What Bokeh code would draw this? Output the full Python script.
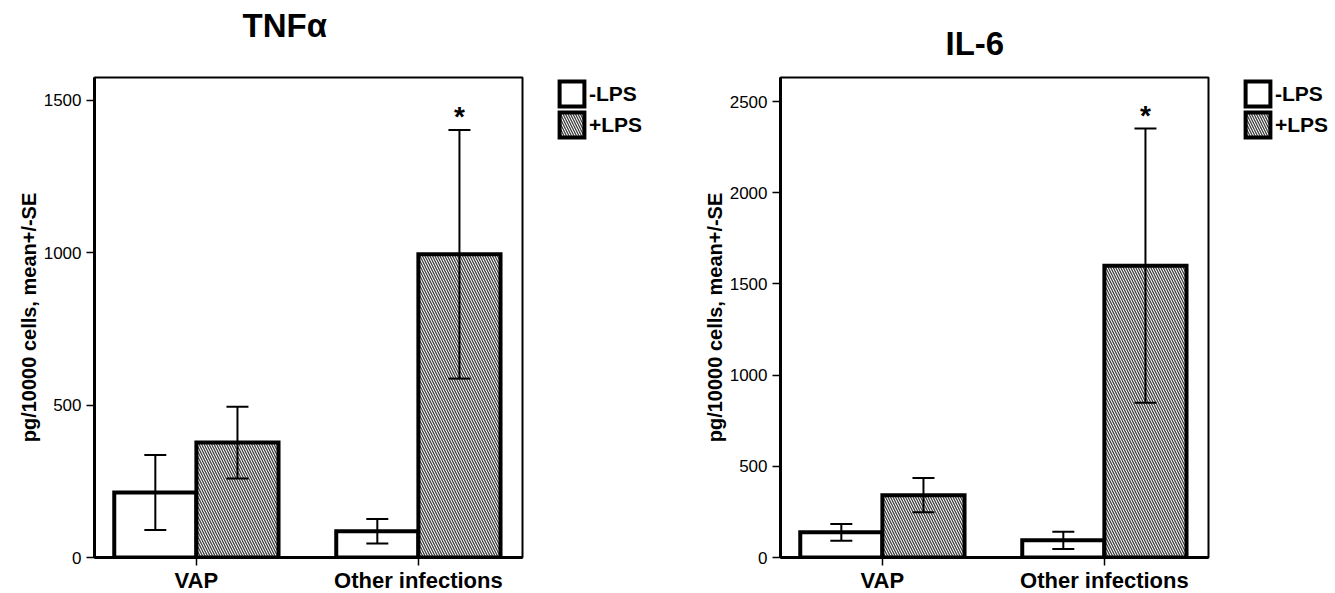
from bokeh.plotting import figure
from bokeh.models import (ColumnDataSource, Range1d, FixedTicker, Whisker, TeeHead,
                          Legend, LegendItem, Title)
from bokeh.layouts import row
from bokeh.embed import file_html
from bokeh.resources import INLINE
from bokeh.core.properties import value

# ---------------- data ----------------
categories = ["VAP", "Other infections"]
groups = ["-LPS", "+LPS"]

tnf_minus = [213, 86]
tnf_minus_se = [123, 40]
tnf_plus = [377, 995]
tnf_plus_se = [118, 408]

il6_minus = [138, 94]
il6_minus_se = [46, 47]
il6_plus = [342, 1600]
il6_plus_se = [94, 752]

significant = [False, True]  # asterisk above +LPS bar

tnf_ticks = [0, 500, 1000, 1500]
il6_ticks = [0, 500, 1000, 1500, 2000, 2500]

FONT = "Liberation Sans"
BAR_W = 0.37
FRAME_H = 480
TOP = 77
LEG_ITEM = 31

MINUS_STYLE = dict(fill_color="white", line_color="black", line_width=4, line_join="miter")
PLUS_STYLE = dict(fill_color="white", line_color="black", line_width=4, line_join="miter",
                  hatch_pattern="left_diagonal_line", hatch_color="#404040",
                  hatch_scale=5, hatch_weight=1.3)


def make_source(minus, minus_se, plus, plus_se):
    xs = list(range(len(categories)))
    return ColumnDataSource(dict(
        x=xs,
        x_m=[x - BAR_W / 2 for x in xs], x_p=[x + BAR_W / 2 for x in xs],
        minus=minus, plus=plus,
        m_lo=[v - e for v, e in zip(minus, minus_se)],
        m_hi=[v + e for v, e in zip(minus, minus_se)],
        p_lo=[v - e for v, e in zip(plus, plus_se)],
        p_hi=[v + e for v, e in zip(plus, plus_se)],
    ))


def make_legend_fig(src, width, legend_x, legend_top_gap):
    # a narrow companion canvas that only shows the legend; the proxy bar
    # renderers are hidden, only their legend swatches are drawn
    lf = figure(frame_width=width, frame_height=FRAME_H, x_range=Range1d(-0.5, 1.5),
                y_range=Range1d(0, 3000), x_axis_type=None, y_axis_type=None,
                output_backend="svg", toolbar_location=None,
                min_border_left=0, min_border_right=0, min_border_top=TOP,
                min_border_bottom=20, outline_line_color=None,
                background_fill_color="white", border_fill_color="white")
    r1 = lf.vbar(x="x_m", top="minus", width=BAR_W, source=src, visible=False, **MINUS_STYLE)
    r2 = lf.vbar(x="x_p", top="plus", width=BAR_W, source=src, visible=False, **PLUS_STYLE)
    legend = Legend(items=[LegendItem(label=groups[0], renderers=[r1], index=0),
                           LegendItem(label=groups[1], renderers=[r2], index=0)],
                    location=(legend_x, FRAME_H - legend_top_gap - 2 * LEG_ITEM),
                    glyph_width=LEG_ITEM, glyph_height=LEG_ITEM, label_height=LEG_ITEM,
                    spacing=0, padding=0, margin=0, label_standoff=2,
                    label_text_font=FONT, label_text_font_style="bold",
                    label_text_font_size="21px", label_text_color="black",
                    border_line_alpha=0, background_fill_alpha=0,
                    click_policy="none", inactive_fill_alpha=0)
    lf.add_layout(legend)
    return lf


def make_panel(src, title, ymax, yticks, title_offset, title_gap, border_left):
    d = src.data
    p = figure(frame_width=428, frame_height=FRAME_H,
               x_range=Range1d(-0.459, 1.469), y_range=Range1d(0, ymax),
               output_backend="svg", toolbar_location=None,
               min_border_left=border_left, min_border_right=2,
               min_border_top=TOP, min_border_bottom=0,
               background_fill_color="white", border_fill_color="white")

    # spacer between the title and the frame
    p.add_layout(Title(text=" ", text_font_size="1px", standoff=title_gap), "above")
    p.title.text = title
    p.title.align = "left"
    p.title.offset = title_offset
    p.title.standoff = 0
    p.title.text_font = FONT
    p.title.text_font_style = "bold"
    p.title.text_font_size = "33px"
    p.title.text_color = "black"

    p.vbar(x="x_m", top="minus", width=BAR_W, source=src, **MINUS_STYLE)
    p.vbar(x="x_p", top="plus", width=BAR_W, source=src, **PLUS_STYLE)

    for base, lo, hi in (("x_m", "m_lo", "m_hi"), ("x_p", "p_lo", "p_hi")):
        w = Whisker(source=src, base=base, lower=lo, upper=hi, dimension="height",
                    line_color="black", line_width=2, level="overlay",
                    upper_head=TeeHead(size=22, line_width=2, line_color="black"),
                    lower_head=TeeHead(size=22, line_width=2, line_color="black"))
        p.add_layout(w)

    sx = [xp for xp, s in zip(d["x_p"], significant) if s]
    sy = [hi for hi, s in zip(d["p_hi"], significant) if s]
    p.text(x=sx, y=sy, text=["*"] * len(sx), text_font=value(FONT),
           text_font_style="bold", text_font_size="28px", text_align="center",
           text_baseline="alphabetic", y_offset=-13, text_color="black")

    p.xgrid.visible = False
    p.ygrid.visible = False
    p.outline_line_color = "black"
    p.outline_line_width = 2

    p.xaxis.ticker = FixedTicker(ticks=list(d["x"]))
    p.xaxis.major_label_overrides = {i: c for i, c in enumerate(categories)}
    p.yaxis.ticker = FixedTicker(ticks=yticks)
    for ax in (p.xaxis, p.yaxis):
        ax.axis_line_width = 3
        ax.axis_line_color = "black"
        ax.major_tick_in = 0
        ax.major_tick_out = 8
        ax.major_tick_line_width = 1.5
        ax.major_tick_line_color = "black"
        ax.minor_tick_line_color = None
    p.xaxis.major_label_text_font = FONT
    p.xaxis.major_label_text_font_style = "bold"
    p.xaxis.major_label_text_font_size = "22px"
    p.xaxis.major_label_text_color = "black"
    p.xaxis.major_label_standoff = 2
    p.yaxis.major_label_text_font = FONT
    p.yaxis.major_label_text_font_style = "normal"
    p.yaxis.major_label_text_font_size = "17px"
    p.yaxis.major_label_text_color = "black"
    p.yaxis.major_label_standoff = 5
    p.yaxis.axis_label = "pg/10000 cells, mean+/-SE"
    p.yaxis.axis_label_text_font = FONT
    p.yaxis.axis_label_text_font_style = "bold"
    p.yaxis.axis_label_text_font_size = "20px"
    p.yaxis.axis_label_text_color = "black"
    p.yaxis.axis_label_standoff = 1
    return p


src1 = make_source(tnf_minus, tnf_minus_se, tnf_plus, tnf_plus_se)
src2 = make_source(il6_minus, il6_minus_se, il6_plus, il6_plus_se)

p1 = make_panel(src1, "TNFα", 1575, tnf_ticks, title_offset=148, title_gap=31, border_left=94)
l1 = make_legend_fig(src1, 146, 32, 1)
p2 = make_panel(src2, "IL-6", 2632, il6_ticks, title_offset=165, title_gap=13, border_left=110)
l2 = make_legend_fig(src2, 125, 32, 1)

layout = row(p1, l1, p2, l2, spacing=0)
open("out.html", "w").write(file_html(layout, INLINE))
